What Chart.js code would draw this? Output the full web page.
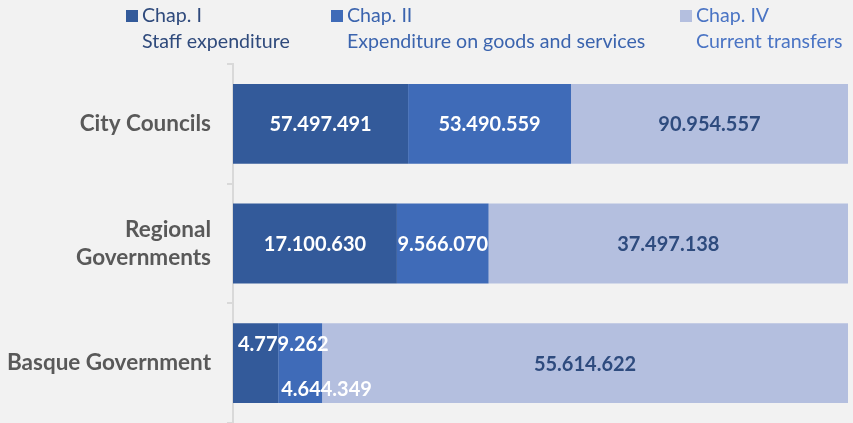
<!DOCTYPE html>
<html>
<head>
<meta charset="utf-8">
<script src="https://cdn.jsdelivr.net/npm/chart.js@4/dist/chart.umd.min.js"></script>
<style>
  html, body { margin: 0; padding: 0; background: #f2f2f2; }
  #wrap { width: 853px; height: 423px; }
</style>
</head>
<body>
<div id="wrap"><canvas id="budgetChart"></canvas></div>
<script>
const categories = ['City Councils', ['Regional', 'Governments'], 'Basque Government'];
const seriesNames = [['Chap. I', 'Staff expenditure'], ['Chap. II', 'Expenditure on goods and services'], ['Chap. IV', 'Current transfers']];
const staff = [57497491, 17100630, 4779262];
const goods = [53490559, 9566070, 4644349];
const transfers = [90954557, 37497138, 55614622];

const colors = ['#335a9a', '#3f6bb8', '#b4bfdf'];
const legendText = ['#2f4a7c', '#3b64ae', '#4a74c4'];
const labelColors = ['#ffffff', '#ffffff', '#2e4b7e'];
const legendX = [126, 331, 680];

const raw = [staff, goods, transfers];
const totals = staff.map((v, i) => v + goods[i] + transfers[i]);
const share = (arr) => arr.map((v, i) => (v / totals[i]) * 100);

function fmt(n) {
  return String(n).replace(/\B(?=(\d{3})+(?!\d))/g, '.');
}

const barLabels = {
  id: 'barLabels',
  afterDatasetsDraw(chart) {
    const ctx = chart.ctx;
    ctx.save();
    ctx.font = 'bold 20px Lato';
    ctx.textBaseline = 'middle';
    chart.data.datasets.forEach((ds, di) => {
      chart.getDatasetMeta(di).data.forEach((bar, i) => {
        const text = fmt(raw[di][i]);
        const w = ctx.measureText(text).width;
        const left = Math.min(bar.x, bar.base);
        const segW = Math.abs(bar.x - bar.base);
        ctx.fillStyle = labelColors[di];
        if (w > segW + 4) {
          // too narrow: push label up or down like the original
          ctx.textAlign = 'left';
          const dy = di === 0 ? -19 : 26;
          ctx.fillText(text, left + (di === 0 ? 5 : 3), bar.y + dy);
        } else {
          ctx.textAlign = 'center';
          ctx.fillText(text, left + segW / 2, bar.y + 1);
        }
      });
    });
    ctx.restore();
  },
};

const topLegend = {
  id: 'topLegend',
  afterDraw(chart) {
    const ctx = chart.ctx;
    ctx.save();
    ctx.font = '19.6px Lato';
    ctx.textBaseline = 'middle';
    ctx.textAlign = 'left';
    seriesNames.forEach((lines, i) => {
      const x = legendX[i];
      ctx.fillStyle = colors[i];
      ctx.fillRect(x, 10, 12, 12);
      ctx.fillStyle = legendText[i];
      ctx.fillText(lines[0], x + 16, 16);
      ctx.fillText(lines[1], x + 16, 42);
    });
    ctx.restore();
  },
};

new Chart(document.getElementById('budgetChart'), {
  type: 'bar',
  data: {
    labels: categories,
    datasets: raw.map((arr, i) => ({
      label: seriesNames[i].join(' '),
      data: share(arr),
      backgroundColor: colors[i],
      borderWidth: 0,
      barPercentage: 0.667,
      categoryPercentage: 1,
    })),
  },
  options: {
    indexAxis: 'y',
    responsive: true,
    maintainAspectRatio: false,
    animation: false,
    layout: {
      padding: { top: 64, right: 5, bottom: 0, left: 0 },
    },
    plugins: {
      legend: { display: false },
      tooltip: { enabled: false },
    },
    scales: {
      x: {
        stacked: true,
        display: false,
        min: 0,
        max: 100,
      },
      y: {
        stacked: true,
        afterFit: (scale) => {
          scale.width = 233;
          scale.paddingTop = 0;
          scale.paddingBottom = 0;
        },
        border: { display: true, color: '#d9d9d9', width: 2 },
        grid: {
          drawOnChartArea: false,
          color: '#d9d9d9',
          tickLength: 6,
          lineWidth: 2,
        },
        ticks: {
          color: '#595959',
          padding: 16,
          font: { family: 'Lato', size: 22.5, weight: 'bold', lineHeight: 1.25 },
        },
      },
    },
  },
  plugins: [barLabels, topLegend],
});
</script>
</body>
</html>
